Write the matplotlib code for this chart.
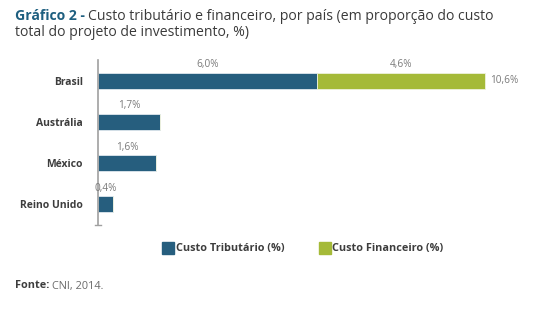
import matplotlib
matplotlib.use("Agg")
import matplotlib.pyplot as plt
from matplotlib.patches import Rectangle

categories = ["Brasil", "Austrália", "México", "Reino Unido"]
custo_tributario = [6.0, 1.7, 1.6, 0.4]
custo_financeiro = [4.6, None, None, None]
totais = [10.6, None, None, None]

trib_labels = ["6,0%", "1,7%", "1,6%", "0,4%"]
fin_labels = ["4,6%", None, None, None]
total_labels = ["10,6%", None, None, None]

BLUE = "#265E7E"
GREEN = "#A5BA38"
GRAY_TXT = "#3d3d3d"
VAL_TXT = "#7a7a7a"

plt.rcParams['font.family'] = ['Open Sans', 'DejaVu Sans']

W, H = 539, 325
fig = plt.figure(figsize=(W/100, H/100), dpi=100)

ax_left = 98 / W
ax_right = 536 / W
ax_bottom = (H - 225) / H
ax_top = (H - 60) / H
ax = fig.add_axes([ax_left, ax_bottom, ax_right - ax_left, ax_top - ax_bottom])

y = list(range(len(categories)))
bh = 0.39
ax.barh(y, custo_tributario, height=bh, color=BLUE, edgecolor="#dfe8ee", linewidth=0.6)
fin_vals = [v if v is not None else 0 for v in custo_financeiro]
ax.barh(y, fin_vals, left=custo_tributario, height=bh, color=GREEN, edgecolor="#eef2dc", linewidth=0.6)

VS = 7.2
for i in y:
    ax.text(custo_tributario[i] / 2, i - bh/2 - 0.06, trib_labels[i], ha="center", va="bottom",
            fontsize=VS, color=VAL_TXT)
    if fin_labels[i]:
        ax.text(custo_tributario[i] + custo_financeiro[i] / 2, i - bh/2 - 0.06, fin_labels[i],
                ha="center", va="bottom", fontsize=VS, color=VAL_TXT)
    if total_labels[i]:
        ax.text(totais[i] + 0.15, i, total_labels[i], ha="left", va="center",
                fontsize=VS, color=VAL_TXT)

ax.set_xlim(0, 12)
ax.set_ylim(3.5, -0.5)
ax.set_yticks(y)
ax.set_yticklabels(categories, fontsize=7.5, fontweight="bold", color=GRAY_TXT)
ax.tick_params(axis="y", length=0, pad=11)
ax.set_xticks([])
for s in ["top", "right", "bottom"]:
    ax.spines[s].set_visible(False)
ax.spines["left"].set_color("#a0a0a0")
ax.spines["left"].set_linewidth(1.2)
ax.plot([-0.08, 0.08], [3.5, 3.5], color="#a0a0a0", lw=1, clip_on=False)

fig.canvas.draw()
r = fig.canvas.get_renderer()

# Title
TS = 10.1
head = fig.text(15/W, 1 - 16/H, "Gráfico 2 - ", fontsize=TS, fontweight="bold", color="#1E5F80",
                ha="left", va="center")
bb = head.get_window_extent(renderer=r)
fig.text(bb.x1 / W, 1 - 16/H, "Custo tributário e financeiro, por país (em proporção do custo",
         fontsize=TS, color="#3a3a3a", ha="left", va="center")
fig.text(15/W, 1 - 33/H, "total do projeto de investimento, %)", fontsize=TS, color="#3a3a3a",
         ha="left", va="center")

# Legend
ly = 1 - 248/H
fig.patches.append(Rectangle((162/W, ly - 6/H), 12/W, 12/H, transform=fig.transFigure,
                             color=BLUE))
fig.text(176/W, ly, "Custo Tributário (%)", fontsize=7.8, fontweight="bold", color=GRAY_TXT,
         ha="left", va="center")
fig.patches.append(Rectangle((319/W, ly - 6/H), 12/W, 12/H, transform=fig.transFigure,
                             color=GREEN))
fig.text(332/W, ly, "Custo Financeiro (%)", fontsize=7.8, fontweight="bold", color=GRAY_TXT,
         ha="left", va="center")

# Source
fy = 1 - 286/H
src = fig.text(15/W, fy, "Fonte:", fontsize=7.8, fontweight="bold", color=GRAY_TXT,
               ha="left", va="center")
bb2 = src.get_window_extent(renderer=r)
fig.text(bb2.x1 / W + 3/W, fy, "CNI, 2014.", fontsize=7.8, color="#6a6a6a", ha="left", va="center")

fig.savefig("out.png", dpi=100)
